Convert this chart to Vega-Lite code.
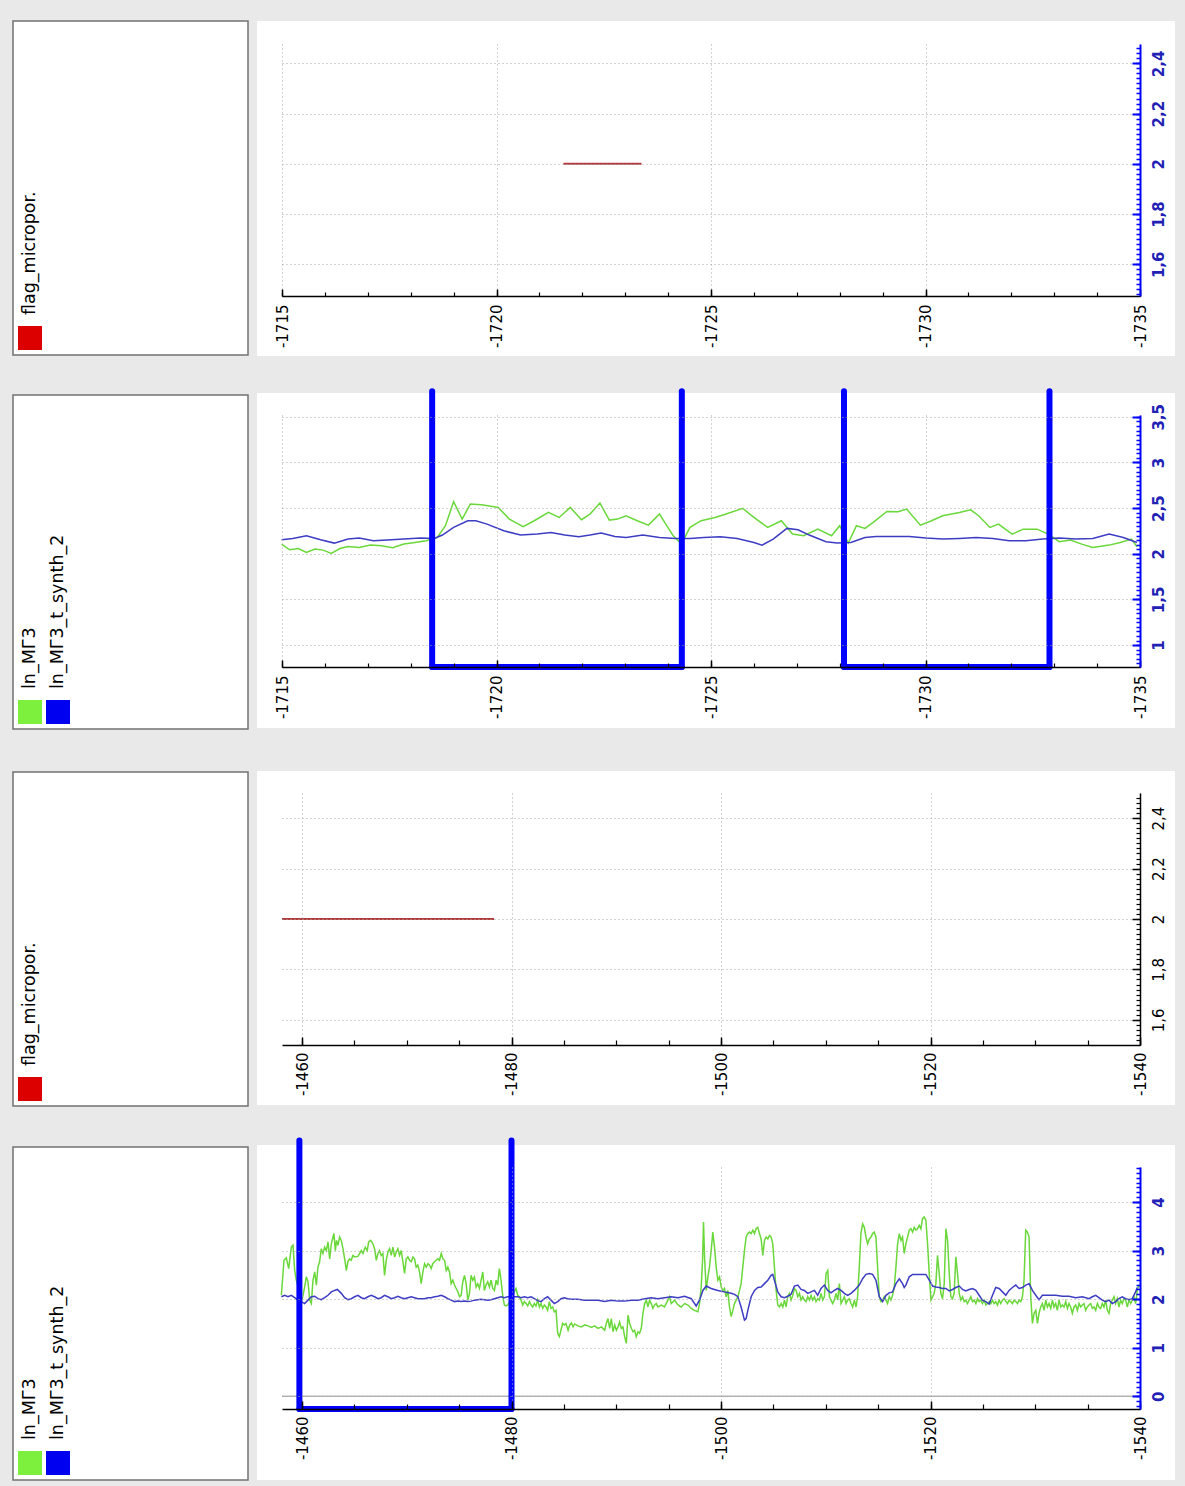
{
"$schema": "https://vega.github.io/schema/vega-lite/v6.json",
"background": "#e9e9e9",
"padding": {"left": 12, "top": 20, "right": 10, "bottom": 5},
"config": {"view": {"stroke": null}, "font": "DejaVu Sans", "axis": {"labelFont": "DejaVu Sans"}},
"datasets": {
"flag1": [{"depth": -1721.56, "value": 2}, {"depth": -1723.38, "value": 2}],
"flag3": [{"depth": -1458.09, "value": 2}, {"depth": -1478.33, "value": 2}],
"br2": [{"start": -1718.5, "end": -1724.32}, {"start": -1728.1, "end": -1732.89}],
"br4": [{"start": -1459.75, "end": -1480.0}],
"p2g": [
{"depth":-1714.99,"value":2.106},{"depth":-1715.18,"value":2.044},{"depth":-1715.38,"value":2.058},{"depth":-1715.57,"value":2.015},{"depth":-1715.77,"value":2.051},{"depth":-1715.96,"value":2.04},{"depth":-1716.15,"value":2.004},{"depth":-1716.35,"value":2.058},{"depth":-1716.54,"value":2.08},{"depth":-1716.8,"value":2.069},{"depth":-1717.06,"value":2.095},{"depth":-1717.32,"value":2.088},{"depth":-1717.58,"value":2.066},{"depth":-1717.84,"value":2.106},{"depth":-1718.1,"value":2.124},{"depth":-1718.36,"value":2.143},{"depth":-1718.62,"value":2.179},{"depth":-1718.81,"value":2.307},{"depth":-1719.0,"value":2.57},{"depth":-1719.2,"value":2.38},{"depth":-1719.39,"value":2.545},{"depth":-1719.65,"value":2.537},{"depth":-1719.91,"value":2.519},{"depth":-1720.04,"value":2.508},{"depth":-1720.3,"value":2.38},{"depth":-1720.62,"value":2.296},{"depth":-1720.88,"value":2.362},{"depth":-1721.21,"value":2.453},{"depth":-1721.46,"value":2.398},{"depth":-1721.72,"value":2.508},{"depth":-1721.98,"value":2.373},{"depth":-1722.18,"value":2.435},{"depth":-1722.41,"value":2.556},{"depth":-1722.63,"value":2.369},{"depth":-1722.82,"value":2.38},{"depth":-1723.02,"value":2.417},{"depth":-1723.28,"value":2.362},{"depth":-1723.54,"value":2.314},{"depth":-1723.8,"value":2.435},{"depth":-1723.92,"value":2.344},{"depth":-1724.12,"value":2.197},{"depth":-1724.31,"value":2.106},{"depth":-1724.51,"value":2.289},{"depth":-1724.77,"value":2.362},{"depth":-1725.09,"value":2.398},{"depth":-1725.35,"value":2.435},{"depth":-1725.74,"value":2.497},{"depth":-1726.0,"value":2.398},{"depth":-1726.32,"value":2.289},{"depth":-1726.64,"value":2.362},{"depth":-1726.9,"value":2.216},{"depth":-1727.16,"value":2.197},{"depth":-1727.49,"value":2.27},{"depth":-1727.81,"value":2.197},{"depth":-1728.0,"value":2.307},{"depth":-1728.2,"value":2.117},{"depth":-1728.39,"value":2.307},{"depth":-1728.59,"value":2.278},{"depth":-1728.78,"value":2.344},{"depth":-1729.1,"value":2.464},{"depth":-1729.36,"value":2.461},{"depth":-1729.56,"value":2.49},{"depth":-1729.88,"value":2.314},{"depth":-1730.14,"value":2.362},{"depth":-1730.4,"value":2.417},{"depth":-1730.79,"value":2.453},{"depth":-1731.05,"value":2.482},{"depth":-1731.24,"value":2.417},{"depth":-1731.5,"value":2.289},{"depth":-1731.7,"value":2.325},{"depth":-1732.02,"value":2.216},{"depth":-1732.28,"value":2.27},{"depth":-1732.6,"value":2.27},{"depth":-1732.86,"value":2.216},{"depth":-1733.12,"value":2.132},{"depth":-1733.38,"value":2.15},{"depth":-1733.64,"value":2.106},{"depth":-1733.9,"value":2.069},{"depth":-1734.28,"value":2.095},{"depth":-1734.54,"value":2.124},{"depth":-1734.8,"value":2.161},{"depth":-1734.93,"value":2.077}
],
"p2b": [
{"depth":-1714.99,"value":2.153},{"depth":-1715.25,"value":2.168},{"depth":-1715.57,"value":2.197},{"depth":-1715.9,"value":2.153},{"depth":-1716.22,"value":2.117},{"depth":-1716.54,"value":2.161},{"depth":-1716.8,"value":2.172},{"depth":-1717.13,"value":2.143},{"depth":-1717.45,"value":2.15},{"depth":-1717.84,"value":2.161},{"depth":-1718.23,"value":2.172},{"depth":-1718.55,"value":2.168},{"depth":-1718.74,"value":2.205},{"depth":-1719.0,"value":2.289},{"depth":-1719.33,"value":2.362},{"depth":-1719.52,"value":2.362},{"depth":-1719.78,"value":2.325},{"depth":-1720.17,"value":2.252},{"depth":-1720.56,"value":2.205},{"depth":-1720.95,"value":2.216},{"depth":-1721.27,"value":2.234},{"depth":-1721.59,"value":2.205},{"depth":-1721.92,"value":2.186},{"depth":-1722.18,"value":2.205},{"depth":-1722.44,"value":2.227},{"depth":-1722.76,"value":2.19},{"depth":-1723.02,"value":2.179},{"depth":-1723.41,"value":2.205},{"depth":-1723.8,"value":2.179},{"depth":-1724.18,"value":2.168},{"depth":-1724.51,"value":2.168},{"depth":-1724.83,"value":2.179},{"depth":-1725.22,"value":2.186},{"depth":-1725.61,"value":2.168},{"depth":-1726.0,"value":2.124},{"depth":-1726.19,"value":2.095},{"depth":-1726.45,"value":2.161},{"depth":-1726.77,"value":2.278},{"depth":-1727.03,"value":2.263},{"depth":-1727.29,"value":2.205},{"depth":-1727.68,"value":2.132},{"depth":-1727.94,"value":2.117},{"depth":-1728.26,"value":2.124},{"depth":-1728.59,"value":2.179},{"depth":-1728.85,"value":2.19},{"depth":-1729.23,"value":2.19},{"depth":-1729.62,"value":2.19},{"depth":-1730.01,"value":2.172},{"depth":-1730.4,"value":2.161},{"depth":-1730.79,"value":2.168},{"depth":-1731.18,"value":2.179},{"depth":-1731.57,"value":2.168},{"depth":-1731.95,"value":2.143},{"depth":-1732.34,"value":2.143},{"depth":-1732.73,"value":2.161},{"depth":-1733.12,"value":2.172},{"depth":-1733.51,"value":2.161},{"depth":-1733.9,"value":2.168},{"depth":-1734.28,"value":2.216},{"depth":-1734.61,"value":2.179},{"depth":-1734.93,"value":2.124}
],
"p4g": [
{"depth":-1458.03,"value":2.08},{"depth":-1458.28,"value":2.8},{"depth":-1458.5,"value":2.85},{"depth":-1458.73,"value":2.63},{"depth":-1458.98,"value":3.07},{"depth":-1459.14,"value":3.11},{"depth":-1459.3,"value":2.59},{"depth":-1459.46,"value":2.39},{"depth":-1460.0,"value":1.98},{"depth":-1460.25,"value":2.25},{"depth":-1460.41,"value":2.46},{"depth":-1460.57,"value":2.36},{"depth":-1460.73,"value":1.98},{"depth":-1460.89,"value":1.91},{"depth":-1461.05,"value":2.39},{"depth":-1461.21,"value":2.56},{"depth":-1461.37,"value":2.29},{"depth":-1461.52,"value":2.66},{"depth":-1461.68,"value":2.77},{"depth":-1461.84,"value":3.04},{"depth":-1462.0,"value":2.94},{"depth":-1462.16,"value":3.07},{"depth":-1462.32,"value":3.0},{"depth":-1462.48,"value":3.18},{"depth":-1462.64,"value":2.83},{"depth":-1462.8,"value":3.14},{"depth":-1462.96,"value":3.28},{"depth":-1463.05,"value":3.35},{"depth":-1463.18,"value":3.0},{"depth":-1463.3,"value":3.21},{"depth":-1463.43,"value":3.11},{"depth":-1463.59,"value":3.28},{"depth":-1463.75,"value":3.21},{"depth":-1463.91,"value":3.04},{"depth":-1464.07,"value":2.83},{"depth":-1464.23,"value":2.59},{"depth":-1464.38,"value":2.77},{"depth":-1464.54,"value":2.83},{"depth":-1464.7,"value":2.8},{"depth":-1464.86,"value":2.9},{"depth":-1465.02,"value":2.87},{"depth":-1465.34,"value":2.88},{"depth":-1465.66,"value":3.0},{"depth":-1465.82,"value":2.94},{"depth":-1466.04,"value":3.07},{"depth":-1466.23,"value":3.0},{"depth":-1466.36,"value":3.18},{"depth":-1466.55,"value":3.21},{"depth":-1466.77,"value":3.14},{"depth":-1466.93,"value":3.04},{"depth":-1467.09,"value":2.8},{"depth":-1467.25,"value":2.94},{"depth":-1467.4,"value":3.0},{"depth":-1467.56,"value":2.9},{"depth":-1467.72,"value":2.94},{"depth":-1467.88,"value":2.49},{"depth":-1468.04,"value":2.8},{"depth":-1468.2,"value":2.97},{"depth":-1468.36,"value":3.04},{"depth":-1468.52,"value":2.9},{"depth":-1468.68,"value":3.07},{"depth":-1468.84,"value":2.87},{"depth":-1469.0,"value":2.97},{"depth":-1469.15,"value":3.04},{"depth":-1469.31,"value":2.9},{"depth":-1469.47,"value":3.0},{"depth":-1469.63,"value":2.77},{"depth":-1469.79,"value":2.53},{"depth":-1469.95,"value":2.83},{"depth":-1470.11,"value":2.87},{"depth":-1470.27,"value":2.8},{"depth":-1470.43,"value":2.77},{"depth":-1470.59,"value":2.87},{"depth":-1470.74,"value":2.83},{"depth":-1470.9,"value":2.66},{"depth":-1471.06,"value":2.7},{"depth":-1471.22,"value":2.56},{"depth":-1471.38,"value":2.32},{"depth":-1471.54,"value":2.56},{"depth":-1471.7,"value":2.73},{"depth":-1471.86,"value":2.66},{"depth":-1472.02,"value":2.73},{"depth":-1472.18,"value":2.7},{"depth":-1472.33,"value":2.63},{"depth":-1472.49,"value":2.73},{"depth":-1472.65,"value":2.77},{"depth":-1472.81,"value":2.8},{"depth":-1472.97,"value":2.83},{"depth":-1473.13,"value":2.8},{"depth":-1473.29,"value":2.94},{"depth":-1473.45,"value":2.83},{"depth":-1473.61,"value":2.8},{"depth":-1473.77,"value":2.59},{"depth":-1473.92,"value":2.66},{"depth":-1474.08,"value":2.56},{"depth":-1474.24,"value":2.32},{"depth":-1474.4,"value":2.39},{"depth":-1474.56,"value":2.29},{"depth":-1474.72,"value":2.22},{"depth":-1474.88,"value":2.15},{"depth":-1475.04,"value":2.05},{"depth":-1475.19,"value":2.08},{"depth":-1475.35,"value":2.36},{"depth":-1475.51,"value":2.49},{"depth":-1475.67,"value":2.32},{"depth":-1475.83,"value":1.98},{"depth":-1475.99,"value":2.12},{"depth":-1476.14,"value":2.49},{"depth":-1476.3,"value":2.39},{"depth":-1476.46,"value":2.46},{"depth":-1476.62,"value":2.25},{"depth":-1476.78,"value":2.32},{"depth":-1476.94,"value":2.22},{"depth":-1477.1,"value":2.39},{"depth":-1477.26,"value":2.56},{"depth":-1477.41,"value":2.18},{"depth":-1477.57,"value":2.29},{"depth":-1477.73,"value":2.36},{"depth":-1477.89,"value":2.25},{"depth":-1478.05,"value":2.39},{"depth":-1478.21,"value":2.22},{"depth":-1478.37,"value":2.18},{"depth":-1478.53,"value":2.39},{"depth":-1478.68,"value":2.29},{"depth":-1478.84,"value":2.63},{"depth":-1479.0,"value":2.39},{"depth":-1479.16,"value":2.08},{"depth":-1479.32,"value":1.88},{"depth":-1479.48,"value":1.86},{"depth":-1479.64,"value":1.88},{"depth":-1480.43,"value":2.22},{"depth":-1480.59,"value":2.08},{"depth":-1480.75,"value":2.05},{"depth":-1480.91,"value":1.98},{"depth":-1481.07,"value":1.88},{"depth":-1481.23,"value":1.95},{"depth":-1481.39,"value":1.91},{"depth":-1481.55,"value":1.86},{"depth":-1481.71,"value":1.95},{"depth":-1481.87,"value":1.88},{"depth":-1482.02,"value":1.84},{"depth":-1482.18,"value":1.91},{"depth":-1482.34,"value":1.86},{"depth":-1482.5,"value":1.98},{"depth":-1482.66,"value":1.84},{"depth":-1482.82,"value":1.91},{"depth":-1482.98,"value":1.81},{"depth":-1483.14,"value":1.88},{"depth":-1483.3,"value":1.84},{"depth":-1483.45,"value":1.77},{"depth":-1483.61,"value":1.95},{"depth":-1483.77,"value":1.81},{"depth":-1483.93,"value":1.84},{"depth":-1484.09,"value":1.74},{"depth":-1484.25,"value":1.77},{"depth":-1484.41,"value":1.3},{"depth":-1484.57,"value":1.23},{"depth":-1484.72,"value":1.36},{"depth":-1484.88,"value":1.5},{"depth":-1485.04,"value":1.47},{"depth":-1485.2,"value":1.5},
{"depth":-1485.4,"value":1.36},{"depth":-1485.56,"value":1.47},{"depth":-1485.72,"value":1.51},{"depth":-1485.88,"value":1.43},{"depth":-1486.03,"value":1.49},{"depth":-1486.35,"value":1.45},{"depth":-1486.67,"value":1.43},{"depth":-1486.99,"value":1.47},{"depth":-1487.31,"value":1.45},{"depth":-1487.62,"value":1.42},{"depth":-1487.94,"value":1.45},{"depth":-1488.26,"value":1.4},{"depth":-1488.58,"value":1.43},{"depth":-1488.89,"value":1.36},{"depth":-1489.05,"value":1.5},{"depth":-1489.21,"value":1.6},{"depth":-1489.37,"value":1.4},{"depth":-1489.53,"value":1.6},{"depth":-1489.69,"value":1.33},{"depth":-1489.85,"value":1.47},{"depth":-1490.01,"value":1.36},{"depth":-1490.17,"value":1.43},{"depth":-1490.32,"value":1.53},{"depth":-1490.48,"value":1.4},{"depth":-1490.64,"value":1.43},{"depth":-1490.8,"value":1.23},{"depth":-1490.96,"value":1.09},{"depth":-1491.12,"value":1.67},{"depth":-1491.28,"value":1.5},{"depth":-1491.44,"value":1.4},{"depth":-1491.6,"value":1.33},{"depth":-1491.75,"value":1.36},{"depth":-1491.91,"value":1.23},{"depth":-1492.07,"value":1.33},{"depth":-1492.23,"value":1.3},{"depth":-1492.39,"value":1.4},{"depth":-1492.55,"value":1.71},{"depth":-1492.71,"value":1.91},{"depth":-1492.87,"value":1.98},{"depth":-1493.03,"value":1.84},{"depth":-1493.18,"value":1.98},{"depth":-1493.34,"value":1.91},{"depth":-1493.5,"value":1.81},{"depth":-1493.66,"value":1.88},{"depth":-1493.82,"value":1.91},{"depth":-1493.98,"value":1.84},{"depth":-1494.3,"value":1.88},{"depth":-1494.61,"value":1.84},{"depth":-1494.93,"value":1.98},{"depth":-1495.09,"value":2.05},{"depth":-1495.25,"value":1.91},{"depth":-1495.57,"value":1.98},{"depth":-1495.89,"value":1.88},{"depth":-1496.2,"value":1.84},{"depth":-1496.52,"value":1.91},{"depth":-1496.84,"value":1.88},{"depth":-1497.16,"value":1.81},{"depth":-1497.47,"value":1.77},{"depth":-1497.79,"value":1.74},{"depth":-1497.95,"value":1.91},{"depth":-1498.11,"value":2.25},{"depth":-1498.24,"value":2.8},{"depth":-1498.33,"value":3.59},{"depth":-1498.43,"value":2.87},{"depth":-1498.59,"value":2.18},{"depth":-1498.75,"value":2.46},{"depth":-1498.9,"value":2.66},{"depth":-1499.06,"value":3.0},{"depth":-1499.22,"value":3.38},{"depth":-1499.38,"value":3.07},{"depth":-1499.54,"value":2.66},{"depth":-1499.7,"value":2.39},{"depth":-1499.86,"value":2.46},{"depth":-1500.02,"value":2.25},{"depth":-1500.18,"value":2.18},{"depth":-1500.33,"value":2.22},{"depth":-1500.49,"value":2.05},{"depth":-1500.65,"value":2.18},{"depth":-1500.81,"value":1.84},{"depth":-1500.97,"value":1.64},{"depth":-1501.13,"value":1.77},{"depth":-1501.29,"value":1.91},{"depth":-1501.45,"value":1.98},{"depth":-1501.61,"value":2.05},{"depth":-1501.77,"value":2.18},{"depth":-1501.92,"value":2.32},{"depth":-1502.08,"value":2.66},{"depth":-1502.24,"value":3.0},{"depth":-1502.4,"value":3.28},{"depth":-1502.56,"value":3.35},{"depth":-1502.72,"value":3.38},{"depth":-1502.88,"value":3.35},{"depth":-1503.04,"value":3.42},{"depth":-1503.2,"value":3.35},{"depth":-1503.35,"value":3.45},{"depth":-1503.51,"value":3.48},{"depth":-1503.67,"value":3.35},{"depth":-1503.83,"value":3.24},{"depth":-1503.99,"value":2.9},{"depth":-1504.15,"value":3.21},{"depth":-1504.31,"value":3.28},{"depth":-1504.47,"value":3.24},{"depth":-1504.63,"value":3.31},{"depth":-1504.78,"value":3.28},{"depth":-1504.94,"value":3.14},{"depth":-1505.1,"value":2.66},{"depth":-1505.26,"value":2.18},{"depth":-1505.42,"value":1.88},{"depth":-1505.58,"value":1.84},{"depth":-1505.74,"value":1.91},{"depth":-1505.9,"value":1.84},{"depth":-1506.06,"value":1.98},{"depth":-1506.21,"value":1.84},{"depth":-1506.37,"value":2.05},{"depth":-1506.53,"value":2.12},{"depth":-1506.69,"value":1.98},{"depth":-1506.85,"value":2.08},{"depth":-1507.01,"value":2.22},{"depth":-1507.17,"value":2.18},{"depth":-1507.33,"value":2.05},{"depth":-1507.49,"value":2.12},{"depth":-1507.64,"value":1.98},{"depth":-1507.8,"value":2.05},{"depth":-1507.96,"value":1.98},{"depth":-1508.12,"value":1.95},{"depth":-1508.28,"value":2.05},{"depth":-1508.44,"value":1.98},{"depth":-1508.6,"value":2.08},{"depth":-1508.76,"value":1.98},{"depth":-1508.92,"value":2.05},{"depth":-1509.07,"value":1.95},{"depth":-1509.23,"value":2.01},{"depth":-1509.39,"value":1.98},{"depth":-1509.55,"value":2.12},{"depth":-1509.71,"value":1.98},{"depth":-1509.87,"value":2.05},{"depth":-1510.03,"value":2.53},{"depth":-1510.19,"value":2.59},{"depth":-1510.35,"value":2.05},{"depth":-1510.5,"value":1.98},{"depth":-1510.66,"value":1.91},{"depth":-1510.82,"value":1.98},{"depth":-1510.98,"value":2.12},{"depth":-1511.14,"value":1.98},{"depth":-1511.3,"value":2.32},{"depth":-1511.46,"value":1.91},{"depth":-1511.62,"value":1.98},{"depth":-1511.78,"value":2.05},{"depth":-1511.94,"value":1.91},{"depth":-1512.09,"value":1.98},{"depth":-1512.25,"value":2.01},{"depth":-1512.41,"value":1.91},{"depth":-1512.57,"value":1.84},{"depth":-1512.73,"value":1.98},
{"depth":-1512.89,"value":1.84},{"depth":-1513.04,"value":2.05},{"depth":-1513.2,"value":2.66},{"depth":-1513.36,"value":3.35},{"depth":-1513.52,"value":3.55},{"depth":-1513.68,"value":3.48},{"depth":-1513.84,"value":3.28},{"depth":-1514.0,"value":3.14},{"depth":-1514.16,"value":3.24},{"depth":-1514.32,"value":3.28},{"depth":-1514.47,"value":3.35},{"depth":-1514.63,"value":3.38},{"depth":-1514.79,"value":3.28},{"depth":-1514.95,"value":2.66},{"depth":-1515.11,"value":2.05},{"depth":-1515.27,"value":1.95},{"depth":-1515.43,"value":1.98},{"depth":-1515.59,"value":2.05},{"depth":-1515.75,"value":1.98},{"depth":-1515.9,"value":1.91},{"depth":-1516.06,"value":2.05},{"depth":-1516.22,"value":1.98},{"depth":-1516.38,"value":2.08},{"depth":-1516.54,"value":2.25},{"depth":-1516.7,"value":2.66},{"depth":-1516.86,"value":3.14},{"depth":-1517.02,"value":3.35},{"depth":-1517.18,"value":3.21},{"depth":-1517.33,"value":3.28},{"depth":-1517.49,"value":2.94},{"depth":-1517.65,"value":3.14},{"depth":-1517.81,"value":3.28},{"depth":-1517.97,"value":3.42},{"depth":-1518.13,"value":3.45},{"depth":-1518.29,"value":3.38},{"depth":-1518.45,"value":3.48},{"depth":-1518.61,"value":3.42},{"depth":-1518.76,"value":3.45},{"depth":-1518.92,"value":3.52},{"depth":-1519.08,"value":3.45},{"depth":-1519.24,"value":3.66},{"depth":-1519.4,"value":3.69},{"depth":-1519.56,"value":3.62},{"depth":-1519.72,"value":3.14},{"depth":-1519.88,"value":2.53},{"depth":-1520.04,"value":1.98},{"depth":-1520.2,"value":2.05},{"depth":-1520.35,"value":2.12},{"depth":-1520.51,"value":2.32},{"depth":-1520.67,"value":2.9},{"depth":-1520.83,"value":2.53},{"depth":-1520.99,"value":2.12},{"depth":-1521.15,"value":2.01},{"depth":-1521.31,"value":2.32},{"depth":-1521.47,"value":3.45},{"depth":-1521.63,"value":3.21},{"depth":-1521.79,"value":2.53},{"depth":-1521.94,"value":2.05},{"depth":-1522.1,"value":2.01},{"depth":-1522.26,"value":2.12},{"depth":-1522.42,"value":2.87},{"depth":-1522.58,"value":2.53},{"depth":-1522.74,"value":2.12},{"depth":-1522.9,"value":1.98},{"depth":-1523.06,"value":2.05},{"depth":-1523.22,"value":1.95},{"depth":-1523.37,"value":1.98},{"depth":-1523.53,"value":1.91},{"depth":-1523.69,"value":1.98},{"depth":-1523.85,"value":2.05},{"depth":-1524.01,"value":1.95},{"depth":-1524.17,"value":1.98},{"depth":-1524.33,"value":1.91},{"depth":-1524.49,"value":2.01},{"depth":-1524.64,"value":1.95},{"depth":-1524.8,"value":1.98},{"depth":-1524.96,"value":1.91},{"depth":-1525.12,"value":1.98},{"depth":-1525.28,"value":1.88},{"depth":-1525.44,"value":1.91},{"depth":-1525.6,"value":1.95},{"depth":-1525.76,"value":1.91},{"depth":-1525.92,"value":1.98},{"depth":-1526.07,"value":1.91},{"depth":-1526.23,"value":1.95},{"depth":-1526.39,"value":1.88},{"depth":-1526.55,"value":1.98},{"depth":-1526.71,"value":1.91},{"depth":-1526.87,"value":1.98},{"depth":-1527.03,"value":2.01},{"depth":-1527.19,"value":1.95},{"depth":-1527.35,"value":1.91},{"depth":-1527.5,"value":1.98},{"depth":-1527.66,"value":1.95},{"depth":-1527.82,"value":1.91},{"depth":-1527.98,"value":1.98},{"depth":-1528.14,"value":1.95},{"depth":-1528.3,"value":1.91},{"depth":-1528.46,"value":1.98},{"depth":-1528.62,"value":1.95},{"depth":-1528.78,"value":2.05},{"depth":-1528.93,"value":2.39},{"depth":-1529.09,"value":3.42},{"depth":-1529.25,"value":3.38},{"depth":-1529.41,"value":3.28},{"depth":-1529.57,"value":2.05},{"depth":-1529.73,"value":1.5},{"depth":-1529.89,"value":1.71},{"depth":-1530.05,"value":1.77},{"depth":-1530.21,"value":1.5},{"depth":-1530.36,"value":1.71},{"depth":-1530.52,"value":1.84},{"depth":-1530.68,"value":1.91},{"depth":-1530.84,"value":1.77},{"depth":-1531.0,"value":1.98},{"depth":-1531.16,"value":1.84},{"depth":-1531.32,"value":1.91},{"depth":-1531.48,"value":1.81},{"depth":-1531.64,"value":1.98},{"depth":-1531.79,"value":1.84},{"depth":-1531.95,"value":1.91},{"depth":-1532.11,"value":1.77},{"depth":-1532.27,"value":1.98},{"depth":-1532.43,"value":1.84},{"depth":-1532.59,"value":1.88},{"depth":-1532.75,"value":1.84},{"depth":-1532.91,"value":1.95},{"depth":-1533.07,"value":1.81},{"depth":-1533.22,"value":1.91},{"depth":-1533.38,"value":1.84},{"depth":-1533.54,"value":1.71},{"depth":-1533.7,"value":1.84},{"depth":-1533.86,"value":1.88},{"depth":-1534.02,"value":1.77},{"depth":-1534.18,"value":1.91},{"depth":-1534.34,"value":1.84},{"depth":-1534.5,"value":1.88},{"depth":-1534.65,"value":1.91},{"depth":-1534.81,"value":1.77},{"depth":-1534.97,"value":1.84},{"depth":-1535.13,"value":1.88},{"depth":-1535.29,"value":1.91},{"depth":-1535.45,"value":1.81},{"depth":-1535.61,"value":1.84},{"depth":-1535.77,"value":1.77},{"depth":-1535.93,"value":1.91},{"depth":-1536.08,"value":1.84},{"depth":-1536.24,"value":1.81},{"depth":-1536.4,"value":1.91},{"depth":-1536.56,"value":1.84},{"depth":-1536.72,"value":1.98},{"depth":-1536.88,"value":1.77},{"depth":-1537.04,"value":1.71},{"depth":-1537.2,"value":1.91},{"depth":-1537.36,"value":1.98},{"depth":-1537.52,"value":2.05},{"depth":-1537.67,"value":1.91},{"depth":-1537.83,"value":2.01},{"depth":-1537.99,"value":1.84},{"depth":-1538.15,"value":1.98},{"depth":-1538.31,"value":1.91},{"depth":-1538.47,"value":2.01},{"depth":-1538.63,"value":1.98},{"depth":-1538.79,"value":1.84},{"depth":-1538.95,"value":1.98},{"depth":-1539.11,"value":1.91},{"depth":-1539.26,"value":1.98},{"depth":-1539.42,"value":2.05},{"depth":-1539.58,"value":1.91},{"depth":-1539.74,"value":2.18},{"depth":-1539.9,"value":2.3}
],
"p4b": [
{"depth":-1458.03,"value":2.05},{"depth":-1458.35,"value":2.08},{"depth":-1458.66,"value":2.05},{"depth":-1458.98,"value":2.08},{"depth":-1459.3,"value":2.03},{"depth":-1459.62,"value":1.98},{"depth":-1459.93,"value":1.95},{"depth":-1460.25,"value":1.91},{"depth":-1460.57,"value":1.98},{"depth":-1460.89,"value":2.05},{"depth":-1461.21,"value":2.06},{"depth":-1461.52,"value":2.01},{"depth":-1461.84,"value":1.99},{"depth":-1462.16,"value":2.03},{"depth":-1462.48,"value":2.08},{"depth":-1462.8,"value":2.15},{"depth":-1463.11,"value":2.18},{"depth":-1463.37,"value":2.2},{"depth":-1463.75,"value":2.12},{"depth":-1464.07,"value":2.03},{"depth":-1464.38,"value":1.99},{"depth":-1464.7,"value":2.01},{"depth":-1465.02,"value":2.05},{"depth":-1465.34,"value":2.08},{"depth":-1465.66,"value":2.03},{"depth":-1465.97,"value":2.01},{"depth":-1466.29,"value":2.05},{"depth":-1466.61,"value":2.08},{"depth":-1466.93,"value":2.05},{"depth":-1467.25,"value":2.01},{"depth":-1467.56,"value":2.03},{"depth":-1467.88,"value":2.08},{"depth":-1468.2,"value":2.05},{"depth":-1468.52,"value":2.01},{"depth":-1468.84,"value":2.03},{"depth":-1469.15,"value":2.06},{"depth":-1469.47,"value":2.03},{"depth":-1469.79,"value":2.01},{"depth":-1470.11,"value":2.03},{"depth":-1470.43,"value":2.05},{"depth":-1470.74,"value":2.03},{"depth":-1471.06,"value":2.01},{"depth":-1471.38,"value":2.01},{"depth":-1471.7,"value":2.01},{"depth":-1472.02,"value":2.03},{"depth":-1472.33,"value":2.03},{"depth":-1472.65,"value":2.05},{"depth":-1472.97,"value":2.06},{"depth":-1473.29,"value":2.08},{"depth":-1473.61,"value":2.05},{"depth":-1473.92,"value":2.01},{"depth":-1474.24,"value":1.98},{"depth":-1474.56,"value":1.95},{"depth":-1474.88,"value":1.96},{"depth":-1475.19,"value":1.95},{"depth":-1475.51,"value":1.96},{"depth":-1475.83,"value":1.95},{"depth":-1476.14,"value":1.96},{"depth":-1476.46,"value":1.98},{"depth":-1476.78,"value":1.99},{"depth":-1477.1,"value":2.0},{"depth":-1477.41,"value":1.99},{"depth":-1477.73,"value":1.98},{"depth":-1478.05,"value":1.99},{"depth":-1478.37,"value":2.01},{"depth":-1478.68,"value":2.03},{"depth":-1479.0,"value":2.05},{"depth":-1479.32,"value":2.03},{"depth":-1479.64,"value":2.05},{"depth":-1480.27,"value":2.05},{"depth":-1480.59,"value":2.05},{"depth":-1480.91,"value":2.03},{"depth":-1481.23,"value":2.05},{"depth":-1481.55,"value":2.03},{"depth":-1481.87,"value":2.05},{"depth":-1482.18,"value":2.01},{"depth":-1482.5,"value":1.97},{"depth":-1482.82,"value":1.95},{"depth":-1483.14,"value":2.01},{"depth":-1483.45,"value":2.05},{"depth":-1483.77,"value":1.98},{"depth":-1484.09,"value":1.91},{"depth":-1484.41,"value":1.95},{"depth":-1484.72,"value":2.01},{"depth":-1485.04,"value":2.03},{"depth":-1485.36,"value":2.01},
{"depth":-1485.72,"value":2.0},{"depth":-1486.35,"value":2.0},{"depth":-1486.99,"value":1.98},{"depth":-1487.62,"value":1.98},{"depth":-1488.26,"value":1.98},{"depth":-1488.89,"value":1.95},{"depth":-1489.53,"value":1.98},{"depth":-1490.17,"value":1.96},{"depth":-1490.8,"value":1.96},{"depth":-1491.44,"value":1.98},{"depth":-1492.07,"value":1.98},{"depth":-1492.71,"value":2.01},{"depth":-1493.34,"value":2.03},{"depth":-1493.98,"value":2.01},{"depth":-1494.61,"value":2.03},{"depth":-1495.25,"value":2.05},{"depth":-1495.89,"value":2.03},{"depth":-1496.52,"value":2.06},{"depth":-1497.16,"value":2.01},{"depth":-1497.63,"value":1.86},{"depth":-1497.95,"value":1.98},{"depth":-1498.27,"value":2.18},{"depth":-1498.59,"value":2.27},{"depth":-1499.06,"value":2.22},{"depth":-1499.7,"value":2.18},{"depth":-1500.33,"value":2.15},{"depth":-1500.97,"value":2.12},{"depth":-1501.29,"value":2.1},{"depth":-1501.61,"value":2.05},{"depth":-1501.92,"value":1.84},{"depth":-1502.24,"value":1.57},{"depth":-1502.4,"value":1.6},{"depth":-1502.56,"value":1.77},{"depth":-1502.88,"value":2.05},{"depth":-1503.2,"value":2.18},{"depth":-1503.51,"value":2.24},{"depth":-1503.83,"value":2.25},{"depth":-1504.15,"value":2.32},{"depth":-1504.47,"value":2.39},{"depth":-1504.78,"value":2.49},{"depth":-1504.94,"value":2.51},{"depth":-1505.1,"value":2.39},{"depth":-1505.42,"value":2.15},{"depth":-1505.74,"value":2.05},{"depth":-1506.06,"value":2.03},{"depth":-1506.37,"value":2.06},{"depth":-1506.69,"value":2.1},{"depth":-1507.01,"value":2.27},{"depth":-1507.33,"value":2.29},{"depth":-1507.64,"value":2.2},{"depth":-1507.96,"value":2.18},{"depth":-1508.28,"value":2.12},{"depth":-1508.6,"value":2.15},{"depth":-1508.92,"value":2.18},{"depth":-1509.23,"value":2.08},{"depth":-1509.55,"value":2.22},{"depth":-1509.87,"value":2.29},{"depth":-1510.19,"value":2.18},{"depth":-1510.5,"value":2.13},{"depth":-1510.82,"value":2.18},{"depth":-1511.14,"value":2.22},{"depth":-1511.46,"value":2.18},{"depth":-1511.78,"value":2.12},{"depth":-1512.09,"value":2.08},{"depth":-1512.41,"value":2.12},
{"depth":-1512.73,"value":2.18},{"depth":-1513.2,"value":2.29},{"depth":-1513.52,"value":2.42},{"depth":-1513.84,"value":2.51},{"depth":-1514.16,"value":2.53},{"depth":-1514.47,"value":2.51},{"depth":-1514.79,"value":2.39},{"depth":-1515.11,"value":2.05},{"depth":-1515.43,"value":1.95},{"depth":-1515.75,"value":2.08},{"depth":-1516.06,"value":2.13},{"depth":-1516.38,"value":2.15},{"depth":-1516.7,"value":2.32},{"depth":-1517.02,"value":2.42},{"depth":-1517.33,"value":2.32},{"depth":-1517.49,"value":2.24},{"depth":-1517.65,"value":2.29},{"depth":-1517.97,"value":2.46},{"depth":-1518.29,"value":2.51},{"depth":-1518.61,"value":2.51},{"depth":-1518.92,"value":2.51},{"depth":-1519.24,"value":2.51},{"depth":-1519.56,"value":2.51},{"depth":-1519.88,"value":2.39},{"depth":-1520.2,"value":2.27},{"depth":-1520.51,"value":2.25},{"depth":-1520.83,"value":2.24},{"depth":-1521.15,"value":2.22},{"depth":-1521.47,"value":2.22},{"depth":-1521.79,"value":2.17},{"depth":-1522.1,"value":2.2},{"depth":-1522.42,"value":2.24},{"depth":-1522.74,"value":2.27},{"depth":-1523.06,"value":2.2},{"depth":-1523.37,"value":2.17},{"depth":-1523.69,"value":2.2},{"depth":-1524.01,"value":2.22},{"depth":-1524.33,"value":2.18},{"depth":-1524.64,"value":2.08},{"depth":-1524.96,"value":1.98},{"depth":-1525.28,"value":1.95},{"depth":-1525.6,"value":1.9},{"depth":-1525.92,"value":2.08},{"depth":-1526.23,"value":2.24},{"depth":-1526.55,"value":2.22},{"depth":-1526.87,"value":2.15},{"depth":-1527.19,"value":2.08},{"depth":-1527.5,"value":2.18},{"depth":-1527.82,"value":2.24},{"depth":-1528.14,"value":2.29},{"depth":-1528.46,"value":2.22},{"depth":-1528.78,"value":2.24},{"depth":-1529.09,"value":2.29},{"depth":-1529.41,"value":2.32},{"depth":-1529.73,"value":2.18},{"depth":-1530.05,"value":2.08},{"depth":-1530.36,"value":1.99},{"depth":-1530.68,"value":2.08},{"depth":-1531.32,"value":2.08},{"depth":-1531.95,"value":2.08},{"depth":-1532.59,"value":2.06},{"depth":-1533.22,"value":2.06},{"depth":-1533.86,"value":2.03},{"depth":-1534.5,"value":2.05},{"depth":-1535.13,"value":2.01},{"depth":-1535.45,"value":2.05},{"depth":-1535.77,"value":2.08},{"depth":-1536.08,"value":2.03},{"depth":-1536.4,"value":1.98},{"depth":-1536.72,"value":1.95},{"depth":-1537.04,"value":1.98},{"depth":-1537.36,"value":1.91},{"depth":-1537.67,"value":1.95},{"depth":-1537.99,"value":2.01},{"depth":-1538.31,"value":2.05},{"depth":-1538.63,"value":2.01},{"depth":-1538.95,"value":1.99},{"depth":-1539.26,"value":2.01},{"depth":-1539.58,"value":2.15},{"depth":-1539.74,"value":2.24}
]
},
"resolve": {"scale": {"color": "independent"}, "legend": {"color": "independent"}},
"spacing": 7,
"hconcat": [
{
"spacing": 41,
"resolve": {"scale": {"color": "independent"}, "legend": {"color": "independent"}},
"vconcat": [
{"spacing": 38, "resolve": {"scale": {"color": "independent"}, "legend": {"color": "independent"}},
 "vconcat": [
 {"width": 235, "height": 311,
  "layer": [
   {"data": {"values": [{}]}, "mark": {"type": "rect", "fill": "white", "stroke": "#727272", "strokeWidth": 1.5},
    "encoding": {
     "x": {"datum": 0, "type": "quantitative", "scale": {"domain": [0, 1], "nice": false, "zero": false}, "axis": null},
     "x2": {"datum": 1},
     "y": {"datum": 0, "type": "quantitative", "scale": {"domain": [0, 1], "nice": false, "zero": false}, "axis": null},
     "y2": {"datum": 1.074}
    }},
   {"data": {"values": [{"series": "flag_micropor."}]},
    "mark": {"type": "square", "opacity": 0},
    "encoding": {"color": {"field": "series", "type": "nominal", "scale": {"domain": ["flag_micropor."], "range": ["#dd0000"]},
     "legend": {"title": null, "orient": "bottom-left", "offset": 5, "padding": 0, "direction": "horizontal", "symbolType": "square", "symbolSize": 576, "symbolStrokeWidth": 0, "symbolOpacity": 1, "columnPadding": 4, "labelOffset": -12, "labelFont": "DejaVu Sans", "labelFontSize": 17.5, "labelColor": "#000000", "labelLimit": 0, "labelAlign": "left", "labelBaseline": "middle", "encode": {"labels": {"update": {"angle": {"value": -90}, "dx": {"value": 23}}}}}}}}
  ]},
 {"width": 235, "height": 334, "view": {"fill": "white", "stroke": "#727272", "strokeWidth": 1.5},
  "data": {"values": [{"series": "ln_МГ3"}, {"series": "ln_МГ3_t_synth_2"}]},
  "mark": {"type": "square", "opacity": 0},
  "encoding": {"color": {"field": "series", "type": "nominal", "scale": {"domain": ["ln_МГ3", "ln_МГ3_t_synth_2"], "range": ["#7cf03c", "#0000f0"]},
   "legend": {"title": null, "orient": "bottom-left", "offset": 5, "padding": 0, "direction": "horizontal", "symbolType": "square", "symbolSize": 576, "symbolStrokeWidth": 0, "symbolOpacity": 1, "columnPadding": 4, "labelOffset": -12, "labelFont": "DejaVu Sans", "labelFontSize": 17.5, "labelColor": "#000000", "labelLimit": 0, "labelAlign": "left", "labelBaseline": "middle", "encode": {"labels": {"update": {"angle": {"value": -90}, "dx": {"value": 23}}}}}}}}
 ]},
{"spacing": 39, "resolve": {"scale": {"color": "independent"}, "legend": {"color": "independent"}},
 "vconcat": [
 {"width": 235, "height": 334, "view": {"fill": "white", "stroke": "#727272", "strokeWidth": 1.5},
  "data": {"values": [{"series": "flag_micropor."}]},
  "mark": {"type": "square", "opacity": 0},
  "encoding": {"color": {"field": "series", "type": "nominal", "scale": {"domain": ["flag_micropor."], "range": ["#dd0000"]},
   "legend": {"title": null, "orient": "bottom-left", "offset": 5, "padding": 0, "direction": "horizontal", "symbolType": "square", "symbolSize": 576, "symbolStrokeWidth": 0, "symbolOpacity": 1, "columnPadding": 4, "labelOffset": -12, "labelFont": "DejaVu Sans", "labelFontSize": 17.5, "labelColor": "#000000", "labelLimit": 0, "labelAlign": "left", "labelBaseline": "middle", "encode": {"labels": {"update": {"angle": {"value": -90}, "dx": {"value": 23}}}}}}}},
 {"width": 235, "height": 333, "view": {"fill": "white", "stroke": "#727272", "strokeWidth": 1.5},
  "data": {"values": [{"series": "ln_МГ3"}, {"series": "ln_МГ3_t_synth_2"}]},
  "mark": {"type": "square", "opacity": 0},
  "encoding": {"color": {"field": "series", "type": "nominal", "scale": {"domain": ["ln_МГ3", "ln_МГ3_t_synth_2"], "range": ["#7cf03c", "#0000f0"]},
   "legend": {"title": null, "orient": "bottom-left", "offset": 5, "padding": 0, "direction": "horizontal", "symbolType": "square", "symbolSize": 576, "symbolStrokeWidth": 0, "symbolOpacity": 1, "columnPadding": 4, "labelOffset": -12, "labelFont": "DejaVu Sans", "labelFontSize": 17.5, "labelColor": "#000000", "labelLimit": 0, "labelAlign": "left", "labelBaseline": "middle", "encode": {"labels": {"update": {"angle": {"value": -90}, "dx": {"value": 23}}}}}}}}
 ]}
]
},
{
"spacing": 43,
"resolve": {"scale": {"color": "independent"}, "legend": {"color": "independent"}},
"vconcat": [
{"spacing": 31, "resolve": {"scale": {"color": "independent"}, "legend": {"color": "independent"}},
 "vconcat": [
 {"width": 858, "height": 252,
  "resolve": {"axis": {"x": "independent", "y": "independent"}},
  "layer": [
   {"data": {"values": [{}]}, "mark": {"type": "rect", "color": "white"},
    "encoding": {
     "x": {"datum": -1714.417, "type": "quantitative", "scale": {"domain": [-1735, -1715], "reverse": true, "nice": false, "zero": false},
      "axis": {"orient": "bottom", "values": [-1715,-1716,-1717,-1718,-1719,-1720,-1721,-1722,-1723,-1724,-1725,-1726,-1727,-1728,-1729,-1730,-1731,-1732,-1733,-1734,-1735], "labels": false, "domain": false, "grid": false, "tickSize": -4, "tickColor": "#000000", "tickWidth": 1.2, "title": null, "zindex": 1}},
     "x2": {"datum": -1735.816},
     "y": {"datum": 2.569, "type": "quantitative", "scale": {"domain": [1.474, 2.477], "nice": false, "zero": false},
      "axis": {"orient": "right", "values": [1.48,1.5,1.52,1.54,1.56,1.58,1.6,1.62,1.64,1.66,1.68,1.7,1.72,1.74,1.76,1.78,1.8,1.82,1.84,1.86,1.88,1.9,1.92,1.94,1.96,1.98,2,2.02,2.04,2.06,2.08,2.1,2.12,2.14,2.16,2.18,2.2,2.22,2.24,2.26,2.28,2.3,2.32,2.34,2.36,2.38,2.4,2.42,2.44,2.46], "labels": false, "domain": false, "grid": false, "tickSize": -4, "tickColor": "#0000ff", "tickWidth": 1.5, "title": null, "zindex": 1}},
     "y2": {"datum": 1.235}
    }},
   {"data": {"name": "flag1"}, "mark": {"type": "line", "strokeWidth": 2},
    "encoding": {
     "x": {"field": "depth", "type": "quantitative",
      "axis": {"orient": "bottom", "values": [-1715,-1720,-1725,-1730,-1735], "labelExpr": "'' + datum.value", "labelAngle": -90, "labelAlign": "right", "labelBaseline": "middle", "labelPadding": 15, "labelFontSize": 15, "labelColor": "#000000", "labelFlush": false, "labelOverlap": false, "tickSize": -7, "tickColor": "#000000", "tickWidth": 1.5, "domainColor": "#000000", "domainWidth": 1.5, "grid": true, "gridColor": "#a6a6a6", "gridDash": [1, 3], "gridWidth": 1, "title": null, "zindex": 1}},
     "y": {"field": "value", "type": "quantitative",
      "axis": {"orient": "right", "values": [1.6,1.8,2,2.2,2.4], "labelExpr": "replace('' + datum.value, '.', ',')", "labelAngle": -90, "labelAlign": "center", "labelBaseline": "top", "labelPadding": 19, "labelFontSize": 15, "labelFontWeight": "bold", "labelColor": "#2121b5", "labelFlush": false, "labelOverlap": false, "tickSize": -8, "tickColor": "#0000ff", "tickWidth": 2, "domainColor": "#0000ff", "domainWidth": 2, "grid": true, "gridColor": "#a6a6a6", "gridDash": [1, 3], "gridWidth": 1, "title": null, "zindex": 1}},
     "color": {"datum": "flag_micropor.", "type": "nominal", "scale": {"domain": ["flag_micropor."], "range": ["#b23c3c"]}, "legend": null}
    }}
  ]},
 {"width": 858, "height": 252,
  "resolve": {"axis": {"x": "independent", "y": "independent"}},
  "layer": [
   {"data": {"values": [{}]}, "mark": {"type": "rect", "color": "white"},
    "encoding": {
     "x": {"datum": -1714.417, "type": "quantitative", "scale": {"domain": [-1735, -1715], "reverse": true, "nice": false, "zero": false},
      "axis": {"orient": "bottom", "values": [-1715,-1716,-1717,-1718,-1719,-1720,-1721,-1722,-1723,-1724,-1725,-1726,-1727,-1728,-1729,-1730,-1731,-1732,-1733,-1734,-1735], "labels": false, "domain": false, "grid": false, "tickSize": -4, "tickColor": "#000000", "tickWidth": 1.2, "title": null, "zindex": 1}},
     "x2": {"datum": -1735.816},
     "y": {"datum": 3.761, "type": "quantitative", "scale": {"domain": [0.76, 3.52], "nice": false, "zero": false},
      "axis": {"orient": "right", "values": [0.8,0.85,0.9,0.95,1,1.05,1.1,1.15,1.2,1.25,1.3,1.35,1.4,1.45,1.5,1.55,1.6,1.65,1.7,1.75,1.8,1.85,1.9,1.95,2,2.05,2.1,2.15,2.2,2.25,2.3,2.35,2.4,2.45,2.5,2.55,2.6,2.65,2.7,2.75,2.8,2.85,2.9,2.95,3,3.05,3.1,3.15,3.2,3.25,3.3,3.35,3.4,3.45,3.5], "labels": false, "domain": false, "grid": false, "tickSize": -4, "tickColor": "#0000ff", "tickWidth": 1.5, "title": null, "zindex": 1}},
     "y2": {"datum": 0.093}
    }},
   {"data": {"name": "p2g"}, "mark": {"type": "line", "strokeWidth": 1.5},
    "encoding": {
     "x": {"field": "depth", "type": "quantitative",
      "axis": {"orient": "bottom", "values": [-1715,-1720,-1725,-1730,-1735], "labelExpr": "'' + datum.value", "labelAngle": -90, "labelAlign": "right", "labelBaseline": "middle", "labelPadding": 15, "labelFontSize": 15, "labelColor": "#000000", "labelFlush": false, "labelOverlap": false, "tickSize": -7, "tickColor": "#000000", "tickWidth": 1.5, "domainColor": "#000000", "domainWidth": 1.5, "grid": true, "gridColor": "#a6a6a6", "gridDash": [1, 3], "gridWidth": 1, "title": null, "zindex": 1}},
     "y": {"field": "value", "type": "quantitative",
      "axis": {"orient": "right", "values": [1,1.5,2,2.5,3,3.5], "labelExpr": "replace('' + datum.value, '.', ',')", "labelAngle": -90, "labelAlign": "center", "labelBaseline": "top", "labelPadding": 19, "labelFontSize": 15, "labelFontWeight": "bold", "labelColor": "#2121b5", "labelFlush": false, "labelOverlap": false, "tickSize": -8, "tickColor": "#0000ff", "tickWidth": 2, "domainColor": "#0000ff", "domainWidth": 2, "grid": true, "gridColor": "#a6a6a6", "gridDash": [1, 3], "gridWidth": 1, "title": null, "zindex": 1}},
     "color": {"datum": "ln_МГ3", "type": "nominal", "scale": {"domain": ["ln_МГ3", "ln_МГ3_t_synth_2"], "range": ["#6ad83a", "#3d3dc4"]}, "legend": null}
    }},
   {"data": {"name": "p2b"}, "mark": {"type": "line", "strokeWidth": 1.5},
    "encoding": {
     "x": {"field": "depth", "type": "quantitative", "axis": null},
     "y": {"field": "value", "type": "quantitative", "axis": null},
     "color": {"datum": "ln_МГ3_t_synth_2", "type": "nominal", "legend": null}
    }},
   {"data": {"name": "br2"}, "mark": {"type": "rule", "color": "#0000ff", "strokeWidth": 6, "strokeCap": "round"},
    "encoding": {"x": {"field": "start", "type": "quantitative", "axis": null}, "y": {"datum": 0.76, "type": "quantitative", "axis": null}, "y2": {"datum": 3.78}}},
   {"data": {"name": "br2"}, "mark": {"type": "rule", "color": "#0000ff", "strokeWidth": 6, "strokeCap": "round"},
    "encoding": {"x": {"field": "end", "type": "quantitative", "axis": null}, "y": {"datum": 0.76, "type": "quantitative", "axis": null}, "y2": {"datum": 3.78}}},
   {"data": {"name": "br2"}, "mark": {"type": "rule", "color": "#0000ff", "strokeWidth": 6, "strokeCap": "round"},
    "encoding": {"x": {"field": "start", "type": "quantitative", "axis": null}, "x2": {"field": "end"}, "y": {"datum": 0.76, "type": "quantitative", "axis": null}}}
  ]}
 ]},
{"spacing": 32, "resolve": {"scale": {"color": "independent"}, "legend": {"color": "independent"}},
 "vconcat": [
 {"width": 858, "height": 252,
  "resolve": {"axis": {"x": "independent", "y": "independent"}},
  "layer": [
   {"data": {"values": [{}]}, "mark": {"type": "rect", "color": "white"},
    "encoding": {
     "x": {"datum": -1455.703, "type": "quantitative", "scale": {"domain": [-1540, -1458.09], "reverse": true, "nice": false, "zero": false},
      "axis": {"orient": "bottom", "values": [-1460,-1465,-1470,-1475,-1480,-1485,-1490,-1495,-1500,-1505,-1510,-1515,-1520,-1525,-1530,-1535,-1540], "labels": false, "domain": false, "grid": false, "tickSize": -5, "tickColor": "#000000", "tickWidth": 1.2, "title": null, "zindex": 1}},
     "x2": {"datum": -1543.341},
     "y": {"datum": 2.587, "type": "quantitative", "scale": {"domain": [1.5, 2.5], "nice": false, "zero": false},
      "axis": {"orient": "right", "values": [1.52,1.54,1.56,1.58,1.6,1.62,1.64,1.66,1.68,1.7,1.72,1.74,1.76,1.78,1.8,1.82,1.84,1.86,1.88,1.9,1.92,1.94,1.96,1.98,2,2.02,2.04,2.06,2.08,2.1,2.12,2.14,2.16,2.18,2.2,2.22,2.24,2.26,2.28,2.3,2.32,2.34,2.36,2.38,2.4,2.42,2.44,2.46,2.48], "labels": false, "domain": false, "grid": false, "tickSize": -4, "tickColor": "#000000", "tickWidth": 1.2, "title": null, "zindex": 1}},
     "y2": {"datum": 1.262}
    }},
   {"data": {"name": "flag3"}, "mark": {"type": "line", "strokeWidth": 2},
    "encoding": {
     "x": {"field": "depth", "type": "quantitative",
      "axis": {"orient": "bottom", "values": [-1460,-1480,-1500,-1520,-1540], "labelExpr": "'' + datum.value", "labelAngle": -90, "labelAlign": "right", "labelBaseline": "middle", "labelPadding": 15, "labelFontSize": 15, "labelColor": "#000000", "labelFlush": false, "labelOverlap": false, "tickSize": -8, "tickColor": "#000000", "tickWidth": 1.5, "domainColor": "#000000", "domainWidth": 1.5, "grid": true, "gridColor": "#a6a6a6", "gridDash": [1, 3], "gridWidth": 1, "title": null, "zindex": 1}},
     "y": {"field": "value", "type": "quantitative",
      "axis": {"orient": "right", "values": [1.6,1.8,2,2.2,2.4], "labelExpr": "replace('' + datum.value, '.', ',')", "labelAngle": -90, "labelAlign": "center", "labelBaseline": "top", "labelPadding": 19, "labelFontSize": 15, "labelColor": "#000000", "labelFlush": false, "labelOverlap": false, "tickSize": -8, "tickColor": "#000000", "tickWidth": 1.5, "domainColor": "#000000", "domainWidth": 1.5, "grid": true, "gridColor": "#a6a6a6", "gridDash": [1, 3], "gridWidth": 1, "title": null, "zindex": 1}},
     "color": {"datum": "flag_micropor.", "type": "nominal", "scale": {"domain": ["flag_micropor."], "range": ["#b23c3c"]}, "legend": null}
    }}
  ]},
 {"width": 858, "height": 242,
  "resolve": {"axis": {"x": "independent", "y": "independent"}},
  "layer": [
   {"data": {"values": [{}]}, "mark": {"type": "rect", "color": "white"},
    "encoding": {
     "x": {"datum": -1455.703, "type": "quantitative", "scale": {"domain": [-1540, -1458.09], "reverse": true, "nice": false, "zero": false},
      "axis": {"orient": "bottom", "values": [-1460,-1465,-1470,-1475,-1480,-1485,-1490,-1495,-1500,-1505,-1510,-1515,-1520,-1525,-1530,-1535,-1540], "labels": false, "domain": false, "grid": false, "tickSize": -5, "tickColor": "#000000", "tickWidth": 1.2, "title": null, "zindex": 1}},
     "x2": {"datum": -1543.341},
     "y": {"datum": 5.173, "type": "quantitative", "scale": {"domain": [-0.26, 4.72], "nice": false, "zero": false},
      "axis": {"orient": "right", "values": [-0.2,-0.1,0,0.1,0.2,0.3,0.4,0.5,0.6,0.7,0.8,0.9,1,1.1,1.2,1.3,1.4,1.5,1.6,1.7,1.8,1.9,2,2.1,2.2,2.3,2.4,2.5,2.6,2.7,2.8,2.9,3,3.1,3.2,3.3,3.4,3.5,3.6,3.7,3.8,3.9,4,4.1,4.2,4.3,4.4,4.5,4.6,4.7], "labels": false, "domain": false, "grid": false, "tickSize": -4, "tickColor": "#0000ff", "tickWidth": 1.5, "title": null, "zindex": 1}},
     "y2": {"datum": -1.721}
    }},
   {"data": {"values": [{}]}, "mark": {"type": "rule", "color": "#b4b4b4", "strokeWidth": 1.5},
    "encoding": {"y": {"datum": 0, "type": "quantitative", "axis": null}}},
   {"data": {"name": "p4g"}, "mark": {"type": "line", "strokeWidth": 1.5},
    "encoding": {
     "x": {"field": "depth", "type": "quantitative",
      "axis": {"orient": "bottom", "values": [-1460,-1480,-1500,-1520,-1540], "labelExpr": "'' + datum.value", "labelAngle": -90, "labelAlign": "right", "labelBaseline": "middle", "labelPadding": 15, "labelFontSize": 15, "labelColor": "#000000", "labelFlush": false, "labelOverlap": false, "tickSize": -8, "tickColor": "#000000", "tickWidth": 1.5, "domainColor": "#000000", "domainWidth": 1.5, "grid": true, "gridColor": "#a6a6a6", "gridDash": [1, 3], "gridWidth": 1, "title": null, "zindex": 1}},
     "y": {"field": "value", "type": "quantitative",
      "axis": {"orient": "right", "values": [0,1,2,3,4], "labelExpr": "replace('' + datum.value, '.', ',')", "labelAngle": -90, "labelAlign": "center", "labelBaseline": "top", "labelPadding": 19, "labelFontSize": 15, "labelFontWeight": "bold", "labelColor": "#2121b5", "labelFlush": false, "labelOverlap": false, "tickSize": -8, "tickColor": "#0000ff", "tickWidth": 2, "domainColor": "#0000ff", "domainWidth": 2, "grid": true, "gridColor": "#a6a6a6", "gridDash": [1, 3], "gridWidth": 1, "title": null, "zindex": 1}},
     "color": {"datum": "ln_МГ3", "type": "nominal", "scale": {"domain": ["ln_МГ3", "ln_МГ3_t_synth_2"], "range": ["#6ad83a", "#3d3dc4"]}, "legend": null}
    }},
   {"data": {"name": "p4b"}, "mark": {"type": "line", "strokeWidth": 1.5},
    "encoding": {
     "x": {"field": "depth", "type": "quantitative", "axis": null},
     "y": {"field": "value", "type": "quantitative", "axis": null},
     "color": {"datum": "ln_МГ3_t_synth_2", "type": "nominal", "legend": null}
    }},
   {"data": {"name": "br4"}, "mark": {"type": "rule", "color": "#0000ff", "strokeWidth": 6, "strokeCap": "round"},
    "encoding": {"x": {"field": "start", "type": "quantitative", "axis": null}, "y": {"datum": -0.26, "type": "quantitative", "axis": null}, "y2": {"datum": 5.265}}},
   {"data": {"name": "br4"}, "mark": {"type": "rule", "color": "#0000ff", "strokeWidth": 6, "strokeCap": "round"},
    "encoding": {"x": {"field": "end", "type": "quantitative", "axis": null}, "y": {"datum": -0.26, "type": "quantitative", "axis": null}, "y2": {"datum": 5.265}}},
   {"data": {"name": "br4"}, "mark": {"type": "rule", "color": "#0000ff", "strokeWidth": 6, "strokeCap": "round"},
    "encoding": {"x": {"field": "start", "type": "quantitative", "axis": null}, "x2": {"field": "end"}, "y": {"datum": -0.26, "type": "quantitative", "axis": null}}}
  ]}
 ]}
]
}
]
}
